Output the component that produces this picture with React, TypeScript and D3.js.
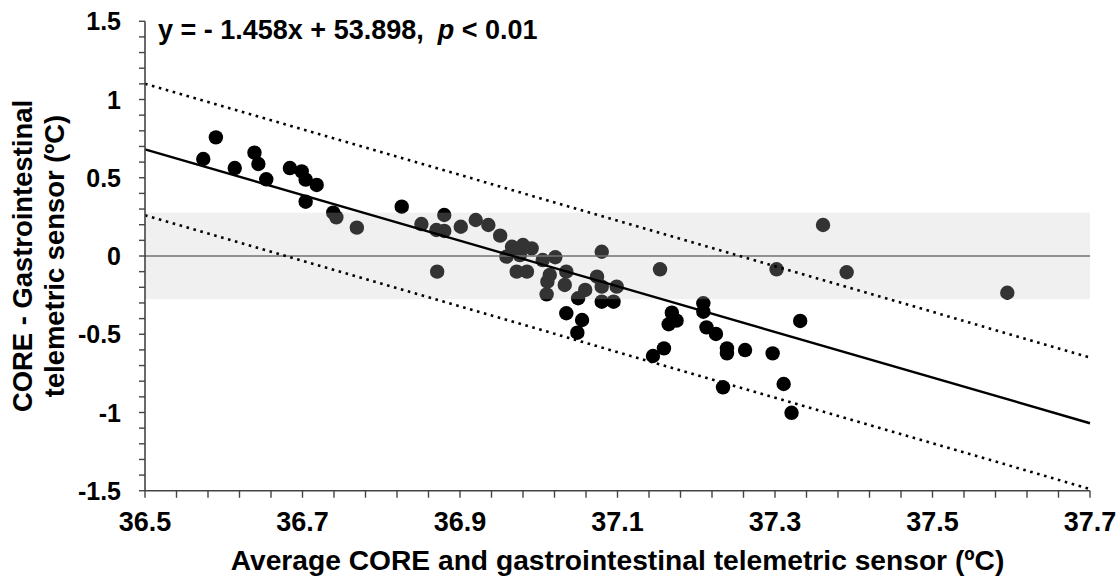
import React from "react";
import * as d3 from "d3";

// Mean of the two sensors (x) vs. their difference (y)
const meanTemp: number[] = [
  36.574, 36.59, 36.614, 36.639, 36.644, 36.654, 36.684, 36.699, 36.704, 36.718,
  36.704, 36.739, 36.743, 36.769, 36.826, 36.851, 36.87, 36.88, 36.88, 36.871,
  36.901, 36.92, 36.936, 36.951, 36.966, 36.98, 36.991, 36.959, 36.976, 36.972,
  36.985, 37.005, 37.021, 37.014, 37.011, 37.035, 37.033, 37.01, 37.05, 37.059,
  37.074, 37.08, 37.08, 37.099, 37.08, 37.095, 37.035, 37.055, 37.049, 37.154,
  37.209, 37.209, 37.169, 37.175, 37.165, 37.213, 37.225, 37.159, 37.145, 37.239,
  37.239, 37.262, 37.297, 37.332, 37.234, 37.311, 37.321, 37.302, 37.361, 37.391,
  37.595,
];
const diffTemp: number[] = [
  0.62, 0.758, 0.562, 0.66, 0.588, 0.49, 0.562, 0.541, 0.488, 0.454,
  0.347, 0.277, 0.247, 0.181, 0.315, 0.204, 0.166, 0.262, 0.16, -0.1,
  0.187, 0.23, 0.198, 0.13, 0.059, 0.07, 0.049, -0.004, 0.006, -0.1,
  -0.1, -0.026, -0.008, -0.121, -0.164, -0.1, -0.185, -0.245, -0.27, -0.217,
  -0.132, 0.027, -0.196, -0.196, -0.292, -0.292, -0.366, -0.409, -0.49, -0.085,
  -0.302, -0.356, -0.362, -0.413, -0.436, -0.456, -0.498, -0.59, -0.639, -0.59,
  -0.622, -0.601, -0.622, -0.415, -0.839, -0.818, -1.002, -0.085, 0.198, -0.104,
  -0.235,
];

// Regression of difference on mean, and its prediction band
const slope = -1.458;
const intercept = 53.898;
const predOffset = 0.42;
// Shaded agreement band around zero
const bandLimits: [number, number] = [-0.276, 0.277];

const xDomain: [number, number] = [36.5, 37.7];
const yDomain: [number, number] = [-1.5, 1.5];
const xTickLabels: number[] = [36.5, 36.7, 36.9, 37.1, 37.3, 37.5, 37.7];
const yTickLabels: number[] = [1.5, 1, 0.5, 0, -0.5, -1, -1.5];

const W = 1116;
const H = 586;
const plot = { left: 145, right: 1090, top: 21.25, bottom: 490.75 };
const FONT = "'Liberation Sans', Arial, sans-serif";

export default function App() {
  const x = d3.scaleLinear().domain(xDomain).range([plot.left, plot.right]);
  const y = d3.scaleLinear().domain(yDomain).range([plot.bottom, plot.top]);

  const xMinor = d3.range(0, 31).map((i) => +(36.5 + i * 0.04).toFixed(2));
  const yMinor = d3.range(0, 31).map((i) => +(-1.5 + i * 0.1).toFixed(1));

  const fitLine = (off: number) =>
    d3
      .line<number>()
      .x((d) => x(d))
      .y((d) => y(slope * d + intercept + off))(xDomain) as string;

  return (
    <svg
      width={W}
      height={H}
      style={{ position: "absolute", left: 0, top: 0, background: "#fff" }}
      fontFamily={FONT}
    >
      {/* points */}
      <g>
        {meanTemp.map((m, i) => (
          <circle key={i} cx={x(m)} cy={y(diffTemp[i])} r={7.2} fill="#000" />
        ))}
      </g>
      {/* translucent agreement band over the points */}
      <rect
        x={plot.left}
        y={y(bandLimits[1])}
        width={plot.right - plot.left}
        height={y(bandLimits[0]) - y(bandLimits[1])}
        fill="rgb(197,197,197)"
        fillOpacity={0.26}
      />
      {/* zero reference */}
      <line
        x1={plot.left}
        x2={plot.right}
        y1={y(0)}
        y2={y(0)}
        stroke="#727272"
        strokeWidth={1.6}
      />
      {/* regression line and prediction limits */}
      <path d={fitLine(0)} fill="none" stroke="#000" strokeWidth={2.4} />
      <path
        d={fitLine(predOffset)}
        fill="none"
        stroke="#000"
        strokeWidth={2.6}
        strokeDasharray="2.6,4.6"
      />
      <path
        d={fitLine(-predOffset)}
        fill="none"
        stroke="#000"
        strokeWidth={2.6}
        strokeDasharray="2.6,4.6"
      />

      {/* y axis */}
      <line x1={plot.left} x2={plot.left} y1={plot.top} y2={plot.bottom} stroke="#444" strokeWidth={1.6} />
      {yMinor.map((v) => (
        <line key={"yt" + v} x1={plot.left - 6} x2={plot.left} y1={y(v)} y2={y(v)} stroke="#444" strokeWidth={1.4} />
      ))}
      {yTickLabels.map((v) => (
        <text
          key={"yl" + v}
          x={plot.left - 24}
          y={y(v)}
          dy="0.36em"
          textAnchor="end"
          fontSize={25}
          fontWeight="bold"
          fill="#000"
        >
          {String(v)}
        </text>
      ))}

      {/* x axis */}
      <line x1={plot.left} x2={plot.right} y1={plot.bottom} y2={plot.bottom} stroke="#444" strokeWidth={1.6} />
      {xMinor.map((v) => (
        <line key={"xt" + v} x1={x(v)} x2={x(v)} y1={plot.bottom} y2={plot.bottom + 7} stroke="#444" strokeWidth={1.4} />
      ))}
      {xTickLabels.map((v) => (
        <text
          key={"xl" + v}
          x={x(v)}
          y={531}
          textAnchor="middle"
          fontSize={27}
          fontWeight="bold"
          fill="#000"
        >
          {v.toFixed(1)}
        </text>
      ))}

      {/* axis titles */}
      <text
        x={(plot.left + plot.right) / 2}
        y={570}
        textAnchor="middle"
        fontSize={28.2}
        fontWeight="bold"
        fill="#000"
      >
        Average CORE and gastrointestinal telemetric sensor (ºC)
      </text>
      <g transform={`translate(0, ${(plot.top + plot.bottom) / 2}) rotate(-90)`}>
        <text x={0} y={32} textAnchor="middle" fontSize={27.4} fontWeight="bold" fill="#000">
          CORE - Gastrointestinal
        </text>
        <text x={0} y={63.5} textAnchor="middle" fontSize={27.4} fontWeight="bold" fill="#000">
          telemetric sensor (ºC)
        </text>
      </g>

      {/* regression equation */}
      <text x={158} y={39} fontSize={27} fontWeight="bold" fill="#000" xmlSpace="preserve">
        <tspan>y = - 1.458x + 53.898,</tspan>
        <tspan dx={14} fontStyle="italic">p</tspan>
        <tspan> &lt; 0.01</tspan>
      </text>
    </svg>
  );
}
